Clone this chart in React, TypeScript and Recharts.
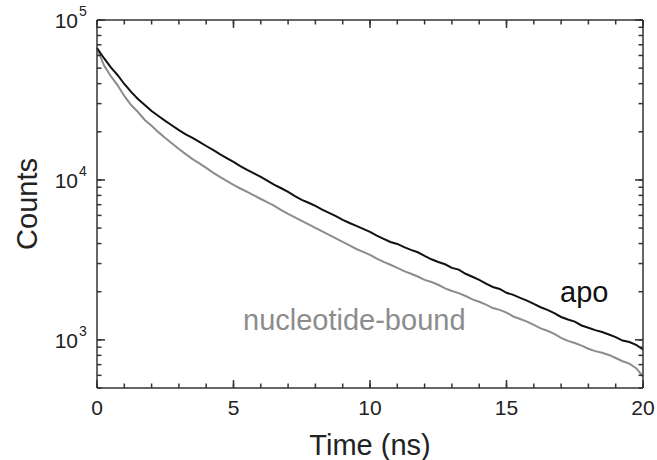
import React from "react";
import { LineChart, Line, XAxis, YAxis } from "recharts";

const times = [
	0, 0.25, 0.5, 0.75, 1, 1.25, 1.5, 1.75, 2, 2.25, 2.5, 2.75, 3, 3.25, 3.5, 3.75, 4, 4.25, 4.5, 4.75,
	5, 5.25, 5.5, 5.75, 6, 6.25, 6.5, 6.75, 7, 7.25, 7.5, 7.75, 8, 8.25, 8.5, 8.75, 9, 9.25, 9.5, 9.75,
	10, 10.25, 10.5, 10.75, 11, 11.25, 11.5, 11.75, 12, 12.25, 12.5, 12.75, 13, 13.25, 13.5, 13.75, 14, 14.25, 14.5, 14.75,
	15, 15.25, 15.5, 15.75, 16, 16.25, 16.5, 16.75, 17, 17.25, 17.5, 17.75, 18, 18.25, 18.5, 18.75, 19, 19.25, 19.5, 19.75, 20,
];

// apo (black)
const apoCounts = [
	66800, 57900, 50800, 45300, 39800, 35500, 32100, 29400, 27000, 25100, 23400, 21900, 20500, 19300, 18300, 17300, 16300, 15400, 14500, 13700,
	12960, 12200, 11550, 11000, 10440, 9850, 9310, 8870, 8410, 7920, 7500, 7200, 6880, 6520, 6220, 5930, 5620, 5380, 5160, 4940,
	4730, 4490, 4280, 4090, 3980, 3800, 3650, 3530, 3350, 3190, 3070, 2970, 2820, 2750, 2590, 2480, 2370, 2250, 2140, 2080,
	1970, 1910, 1830, 1760, 1680, 1600, 1540, 1470, 1390, 1340, 1300, 1230, 1190, 1150, 1120, 1080, 1040, 990, 970, 930, 870,
];

// nucleotide-bound (grey)
const boundCounts = [
	66800, 52300, 44700, 39200, 33500, 29400, 26600, 23700, 21800, 19900, 18300, 16900, 15600, 14500, 13500, 12700, 11900, 11100, 10440, 9850,
	9310, 8840, 8410, 8000, 7600, 7230, 6880, 6480, 6130, 5830, 5540, 5270, 5010, 4760, 4530, 4310, 4100, 3900, 3700, 3550,
	3400, 3220, 3070, 2950, 2820, 2690, 2590, 2490, 2370, 2300, 2210, 2100, 2020, 1960, 1880, 1790, 1730, 1660, 1580, 1540,
	1480, 1400, 1350, 1300, 1240, 1180, 1140, 1090, 1030, 985, 955, 920, 880, 850, 830, 805, 770, 735, 710, 665, 590,
];

const xTicks = [0, 1, 2, 3, 4, 5, 6, 7, 8, 9, 10, 11, 12, 13, 14, 15, 16, 17, 18, 19, 20];
const xMajor = [0, 5, 10, 15, 20];
const yTicks = [
	500, 600, 700, 800, 900, 1000, 2000, 3000, 4000, 5000, 6000, 7000, 8000, 9000,
	10000, 20000, 30000, 40000, 50000, 60000, 70000, 80000, 90000, 100000,
];
const yMajor = [1000, 10000, 100000];
const yExponents = ["3", "4", "5"];

const data = times.map((t, i) => ({ t, apo: apoCounts[i], bound: boundCounts[i] }));

const FONT = "'Liberation Sans', Arial, Helvetica, sans-serif";
const AXIS = "#333";
const MAJOR = 8;
const MINOR = 4.5;
const W = 1.5;

// minor ticks come from the axis tickLine (negative tickSize = inward),
// the custom ticks add the longer major marks and the labels
const BottomTick = (props: any) => {
	const x = Number(props.x);
	const y = Number(props.y);
	if (!xMajor.includes(props.payload.value)) return <g />;
	return (
		<g>
			<rect x={x - W / 2} y={y - MAJOR} width={W} height={MAJOR} fill={AXIS} />
			<text x={x} y={y + 27} textAnchor="middle" fontSize={21} fill="#222" fontFamily={FONT}>
				{props.payload.value}
			</text>
		</g>
	);
};

const TopTick = (props: any) => {
	const x = Number(props.x);
	const y = Number(props.y);
	if (!xMajor.includes(props.payload.value)) return <g />;
	return <rect x={x - W / 2} y={y} width={W} height={MAJOR} fill={AXIS} />;
};

const LeftTick = (props: any) => {
	const x = Number(props.x);
	const y = Number(props.y);
	const idx = yMajor.indexOf(props.payload.value);
	if (idx < 0) return <g />;
	return (
		<g>
			<rect x={x} y={y - W / 2} width={MAJOR} height={W} fill={AXIS} />
			<text x={x - 19} y={y + 8} textAnchor="end" fontSize={21} fill="#222" fontFamily={FONT}>
				10
			</text>
			<text x={x - 18} y={y - 4} textAnchor="start" fontSize={14} fill="#222" fontFamily={FONT}>
				{yExponents[idx]}
			</text>
		</g>
	);
};

const RightTick = (props: any) => {
	const x = Number(props.x);
	const y = Number(props.y);
	if (!yMajor.includes(props.payload.value)) return <g />;
	return <rect x={x - MAJOR} y={y - W / 2} width={MAJOR} height={W} fill={AXIS} />;
};

const tickLine = { stroke: AXIS, strokeWidth: W };

export default function App() {
	return (
		<div style={{ position: "fixed", left: 0, top: 0, width: 657, height: 460, background: "#fff" }}>
			<LineChart width={657} height={460} data={data} margin={{ top: 0, right: 0, left: 0, bottom: 0 }}>
				<XAxis
					dataKey="t"
					type="number"
					domain={[0, 20]}
					ticks={xTicks}
					interval={0}
					height={72}
					tickSize={-MINOR}
					tickMargin={MINOR}
					tickLine={tickLine}
					tick={<BottomTick />}
					stroke={AXIS}
					strokeWidth={W}
				/>
				<XAxis
					xAxisId="top"
					orientation="top"
					dataKey="t"
					type="number"
					domain={[0, 20]}
					ticks={xTicks}
					interval={0}
					height={20}
					tickSize={-MINOR}
					tickMargin={MINOR}
					tickLine={tickLine}
					tick={<TopTick />}
					stroke={AXIS}
					strokeWidth={W}
				/>
				<YAxis
					type="number"
					scale="log"
					domain={[500, 100000]}
					allowDataOverflow
					ticks={yTicks}
					interval={0}
					width={97}
					tickSize={-MINOR}
					tickMargin={MINOR}
					tickLine={tickLine}
					tick={<LeftTick />}
					stroke={AXIS}
					strokeWidth={W}
				/>
				<YAxis
					yAxisId="right"
					orientation="right"
					type="number"
					scale="log"
					domain={[500, 100000]}
					allowDataOverflow
					ticks={yTicks}
					interval={0}
					width={14}
					tickSize={-MINOR}
					tickMargin={MINOR}
					tickLine={tickLine}
					tick={<RightTick />}
					stroke={AXIS}
					strokeWidth={W}
				/>
				<Line type="linear" dataKey="bound" stroke="#8c8c8c" strokeWidth={2} dot={false} isAnimationActive={false} />
				<Line type="linear" dataKey="apo" stroke="#111" strokeWidth={2} dot={false} isAnimationActive={false} />
			</LineChart>
			<svg width={657} height={460} style={{ position: "absolute", left: 0, top: 0, pointerEvents: "none" }}>
				<g fontFamily={FONT} fontSize={29}>
					<text x={37} y={204} transform="rotate(-90, 37, 204)" textAnchor="middle" fill="#222">
						Counts
					</text>
					<text x={370} y={455} textAnchor="middle" fill="#222">
						Time (ns)
					</text>
					<text x={560} y={302} fill="#111">
						apo
					</text>
					<text x={243} y={330} fill="#8c8c8c">
						nucleotide-bound
					</text>
				</g>
			</svg>
		</div>
	);
}
